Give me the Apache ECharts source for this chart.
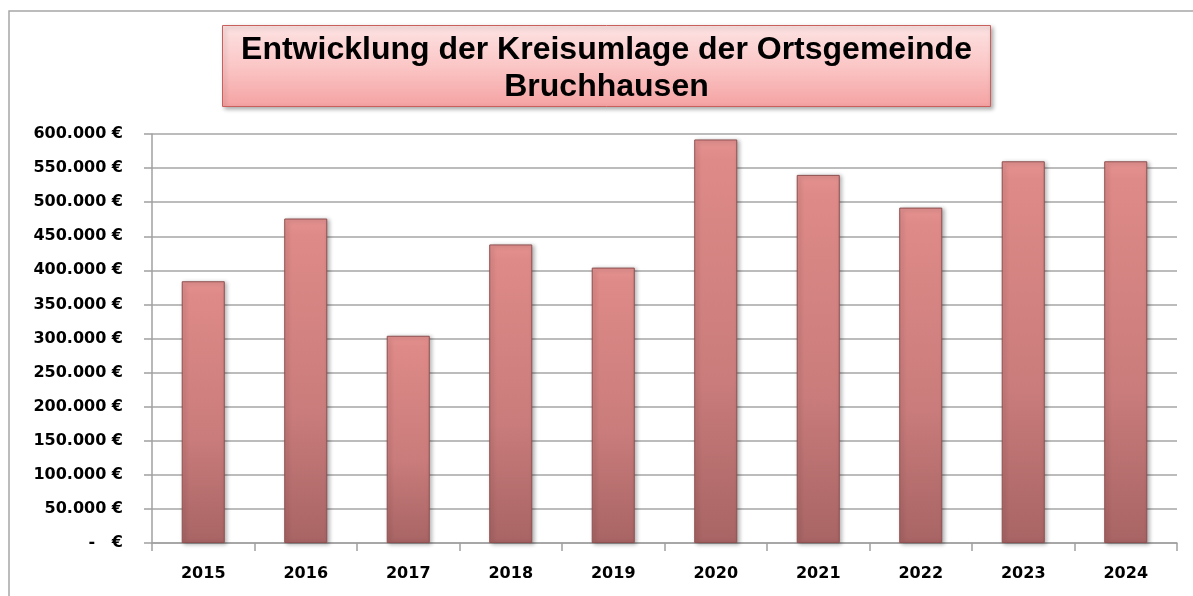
<!DOCTYPE html>
<html>
<head>
<meta charset="utf-8">
<script src="https://cdn.jsdelivr.net/npm/echarts@6/dist/echarts.min.js"></script>
<style>
  html, body { margin: 0; padding: 0; background: #fff; }
  #chart { width: 1193px; height: 596px; }
</style>
</head>
<body>
<div id="chart"></div>
<script>
// data
var years = ['2015', '2016', '2017', '2018', '2019', '2020', '2021', '2022', '2023', '2024'];
var kreisumlage = [384000, 476000, 304000, 438000, 404000, 592000, 540000, 492000, 560000, 560000];
var titleLines = ['Entwicklung der Kreisumlage der Ortsgemeinde', 'Bruchhausen'];

var chart = echarts.init(document.getElementById('chart'));

function euro(v) {
    if (v === 0) return '-   €';
    return v.toLocaleString('de-DE') + ' €';
}

var labelFont = '"DejaVu Sans", sans-serif';

chart.setOption({
    animation: false,
    backgroundColor: '#fff',
    graphic: [
        {
            // outer chart frame (only left and top visible in the picture)
            type: 'rect',
            shape: { x: 9, y: 11, width: 1300, height: 700 },
            style: { fill: 'none', stroke: '#a6a6a6', lineWidth: 1.5 },
            silent: true
        },
        {
            type: 'group',
            left: 222,
            top: 25,
            children: [
                {
                    type: 'rect',
                    shape: { x: 0, y: 0, width: 768, height: 81 },
                    style: {
                        fill: new echarts.graphic.LinearGradient(0, 0, 0, 1, [
                            { offset: 0, color: '#fde3e3' },
                            { offset: 0.5, color: '#fbc6c6' },
                            { offset: 1, color: '#f5a2a2' }
                        ]),
                        stroke: '#c9605c',
                        lineWidth: 1,
                        shadowBlur: 4,
                        shadowOffsetX: 2,
                        shadowOffsetY: 2,
                        shadowColor: 'rgba(0,0,0,0.3)'
                    }
                },
                {
                    type: 'text',
                    x: 384,
                    y: 43,
                    style: {
                        text: titleLines.join('\n'),
                        font: 'bold 32px "Liberation Sans", Arial, sans-serif',
                        fill: '#000',
                        align: 'center',
                        verticalAlign: 'middle',
                        lineHeight: 37
                    }
                }
            ]
        }
    ],
    grid: {
        left: 152,
        right: 16,
        top: 134,
        bottom: 53,
        containLabel: false
    },
    xAxis: {
        type: 'category',
        data: years,
        axisLine: { lineStyle: { color: '#a0a0a0', width: 1.5 } },
        axisTick: { show: true, alignWithLabel: false, length: 8, lineStyle: { color: '#a0a0a0', width: 1.5 } },
        axisLabel: {
            color: '#000',
            fontFamily: labelFont,
            fontWeight: 'bold',
            fontSize: 16,
            margin: 23
        }
    },
    yAxis: {
        type: 'value',
        min: 0,
        max: 600000,
        interval: 50000,
        axisLine: { show: true, lineStyle: { color: '#a0a0a0', width: 1.5 } },
        axisTick: { show: true, length: 8, lineStyle: { color: '#a0a0a0', width: 1.5 } },
        splitLine: { lineStyle: { color: '#a6a6a6', width: 1.5 } },
        axisLabel: {
            color: '#000',
            fontFamily: labelFont,
            fontWeight: 'bold',
            fontSize: 16,
            margin: 29,
            formatter: euro
        }
    },
    series: [
        {
            type: 'bar',
            data: kreisumlage,
            barWidth: '42%',
            itemStyle: {
                color: new echarts.graphic.LinearGradient(0, 0, 0, 1, [
                    { offset: 0, color: '#e49290' },
                    { offset: 0.05, color: '#de8a88' },
                    { offset: 0.6, color: '#c97c7b' },
                    { offset: 1, color: '#a86464' }
                ]),
                borderColor: '#8e5050',
                borderWidth: 1,
                shadowBlur: 4,
                shadowOffsetX: 2,
                shadowOffsetY: 1,
                shadowColor: 'rgba(0,0,0,0.3)'
            }
        }
    ]
});
</script>
</body>
</html>
